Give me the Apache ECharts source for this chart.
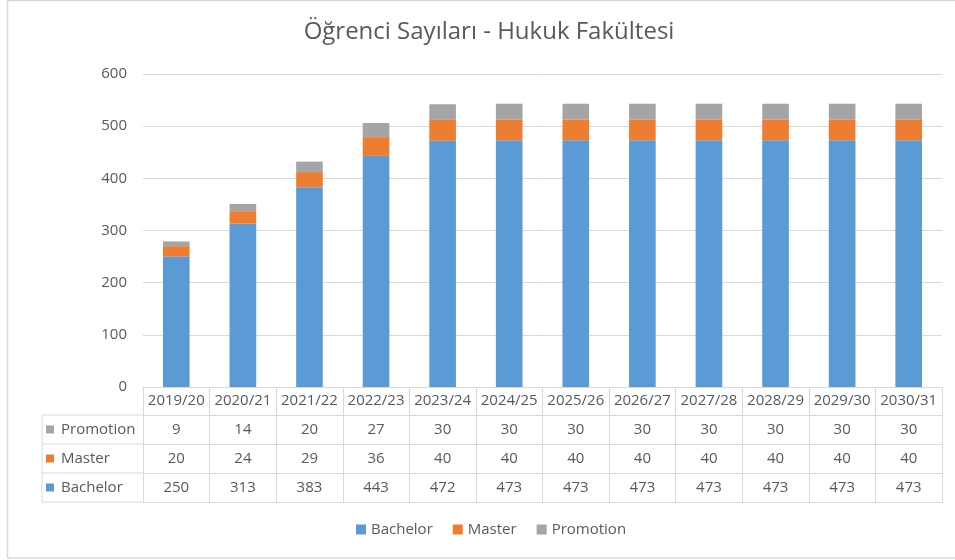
<!DOCTYPE html>
<html>
<head>
<meta charset="utf-8">
<title>Öğrenci Sayıları - Hukuk Fakültesi</title>
<script src="https://cdn.jsdelivr.net/npm/echarts@6/dist/echarts.min.js"></script>
<style>
  html, body { margin: 0; padding: 0; background: #fff; }
  #chart { width: 955px; height: 560px; }
</style>
</head>
<body>
<div id="chart"></div>
<script>
const years = ['2019/20', '2020/21', '2021/22', '2022/23', '2023/24', '2024/25', '2025/26', '2026/27', '2027/28', '2028/29', '2029/30', '2030/31']
const bachelor = [250, 313, 383, 443, 472, 473, 473, 473, 473, 473, 473, 473]
const master = [20, 24, 29, 36, 40, 40, 40, 40, 40, 40, 40, 40]
const promotion = [9, 14, 20, 27, 30, 30, 30, 30, 30, 30, 30, 30]
const yTicks = [0, 100, 200, 300, 400, 500, 600]

const FONT = 'Open Sans'
const TEXT = '#595959'
const LINE = '#d9d9d9'
const colors = { Bachelor: '#5B9BD5', Master: '#ED7D31', Promotion: '#A5A5A5' }

// layout of plot + data table
const plotLeft = 143
const plotRight = 942
const plotTop = 74
const axisY = 387
const headerH = 28
const rowH = 29
const tableLeft = 42

const chart = echarts.init(document.getElementById('chart'), null, { renderer: 'canvas' })

// one extra x axis per table row, its labels are the row values
function rowAxis (offset, values) {
  return {
    type: 'category',
    data: years,
    position: 'bottom',
    offset: offset,
    axisLine: { show: true, lineStyle: { color: LINE, width: 1 } },
    axisTick: { show: false },
    axisLabel: {
      show: !!values,
      interval: 0,
      margin: 7,
      fontFamily: FONT,
      fontSize: 15,
      color: TEXT,
      formatter: (v, i) => values ? String(values[i]) : ''
    },
    splitLine: { show: false }
  }
}

// left header column of the data table
const rowNames = ['Promotion', 'Master', 'Bachelor']
const tableGraphics = []
rowNames.forEach((name, i) => {
  const top = axisY + headerH + i * rowH
  tableGraphics.push({
    type: 'line',
    shape: { x1: tableLeft, y1: top, x2: plotLeft, y2: top },
    style: { stroke: LINE, lineWidth: 1 }
  })
  tableGraphics.push({
    type: 'rect',
    shape: { x: 46, y: top + rowH / 2 - 4, width: 8, height: 8 },
    style: { fill: colors[name] }
  })
  tableGraphics.push({
    type: 'text',
    x: 61,
    y: top + rowH / 2,
    style: { text: name, font: '15px "' + FONT + '"', fill: TEXT, verticalAlign: 'middle' }
  })
})
const tableBottom = axisY + headerH + 3 * rowH
tableGraphics.push({
  type: 'line',
  shape: { x1: tableLeft, y1: tableBottom, x2: plotLeft, y2: tableBottom },
  style: { stroke: LINE, lineWidth: 1 }
})
tableGraphics.push({
  type: 'line',
  shape: { x1: tableLeft, y1: axisY + headerH, x2: tableLeft, y2: tableBottom },
  style: { stroke: LINE, lineWidth: 1 }
})
// chart frame (right edge runs off the picture)
tableGraphics.push({
  type: 'rect',
  shape: { x: 7.5, y: 0.5, width: 960, height: 557.5 },
  style: { fill: 'none', stroke: LINE, lineWidth: 1.5 },
  z: -1
})

function makeSeries (name, values) {
  return {
    name: name,
    type: 'bar',
    stack: 'total',
    barWidth: '40%',
    data: values,
    itemStyle: { color: colors[name] },
    emphasis: { disabled: true }
  }
}

const option = {
  animation: false,
  textStyle: { fontFamily: FONT },
  title: {
    text: 'Öğrenci Sayıları - Hukuk Fakültesi',
    left: 484,
    textAlign: 'center',
    top: 15,
    textStyle: { fontFamily: FONT, fontSize: 24, fontWeight: 'normal', color: TEXT }
  },
  legend: {
    data: ['Bachelor', 'Master', 'Promotion'],
    left: 351,
    top: 517,
    itemWidth: 10,
    itemHeight: 10,
    itemGap: 20,
    icon: 'rect',
    textStyle: { fontFamily: FONT, fontSize: 15, color: TEXT }
  },
  grid: {
    left: plotLeft,
    right: 955 - plotRight,
    top: plotTop,
    bottom: 560 - axisY,
    containLabel: false
  },
  xAxis: [
    {
      type: 'category',
      data: years,
      position: 'bottom',
      axisLine: { show: true, lineStyle: { color: LINE, width: 1 } },
      // long ticks double as the table's column borders
      axisTick: { show: true, interval: 0, length: headerH + 3 * rowH, lineStyle: { color: LINE, width: 1 } },
      axisLabel: { interval: 0, margin: 6, fontFamily: FONT, fontSize: 15, color: TEXT }
    },
    rowAxis(headerH, promotion),
    rowAxis(headerH + rowH, master),
    rowAxis(headerH + 2 * rowH, bachelor),
    rowAxis(headerH + 3 * rowH, null)
  ],
  yAxis: {
    type: 'value',
    min: yTicks[0],
    max: yTicks[yTicks.length - 1],
    interval: 100,
    axisLine: { show: false },
    axisTick: { show: false },
    axisLabel: { margin: 16, fontFamily: FONT, fontSize: 15, color: TEXT },
    splitLine: { lineStyle: { color: LINE, width: 1 } }
  },
  graphic: tableGraphics,
  series: [
    makeSeries('Bachelor', bachelor),
    makeSeries('Master', master),
    makeSeries('Promotion', promotion)
  ]
}

chart.setOption(option)
</script>
</body>
</html>
